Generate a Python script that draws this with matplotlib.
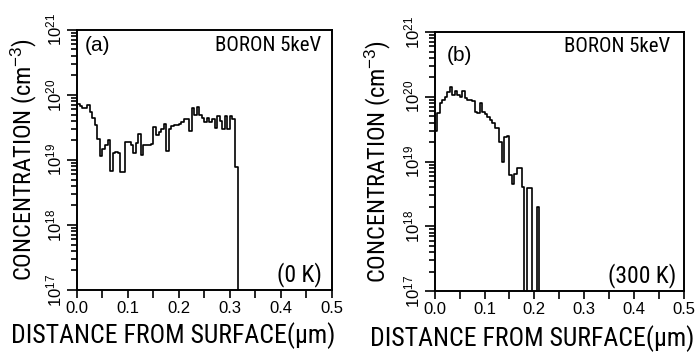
import numpy as np
import matplotlib.pyplot as plt
from matplotlib.ticker import MultipleLocator, LogLocator, NullFormatter

plt.rcParams['font.family'] = ['Roboto Condensed', 'Liberation Sans Narrow', 'DejaVu Sans']
plt.rcParams['font.stretch'] = 'condensed'
plt.rcParams['mathtext.fontset'] = 'custom'
plt.rcParams['mathtext.rm'] = 'Liberation Sans'
plt.rcParams['mathtext.it'] = 'Liberation Sans:italic'

# depth histogram, bin width in um
bin_width = 0.005

# (a) 0 K, concentration per bin (cm^-3), last bin is empty
conc_0K = [7.2e19, 6.8e19, 6.3e19, 6.2e19, 7.0e19, 5.4e19, 4.5e19, 3.4e19, 2.1e19, 1.15e19,
           1.5e19, 1.7e19, 2.0e19, 6.8e18, 1.3e19, 1.35e19, 1.3e19, 6.5e18, 6.5e18, 1.9e19,
           1.9e19, 1.7e19, 1.3e19, 1.8e19, 2.5e19, 1.2e19, 1.7e19, 1.7e19, 1.7e19, 1.75e19,
           3.2e19, 2.4e19, 2.7e19, 3.0e19, 3.6e19, 1.38e19, 3.0e19, 3.3e19, 3.4e19, 3.5e19,
           3.6e19, 3.8e19, 4.3e19, 4.3e19, 2.8e19, 6.3e19, 5.0e19, 6.6e19, 5.0e19, 4.5e19,
           3.9e19, 4.5e19, 3.8e19, 4.2e19, 3.1e19, 4.7e19, 4.0e19, 3.0e19, 4.8e19, 3.0e19,
           4.8e19, 4.2e19, 7.7e18, 0]
surface_0K = 2.3e19

# (b) 300 K
conc_300K = [3.0e19, 5.6e19, 7.9e19, 8.9e19, 1.0e20, 1.2e20, 1.43e20, 1.05e20, 1.25e20, 1.05e20,
             1.0e20, 1.25e20, 9.5e19, 8.9e19, 8.9e19, 8.5e19, 5.9e19, 5.6e19, 7.9e19, 5.9e19,
             5.5e19, 4.9e19, 4.4e19, 3.9e19, 3.3e19, 3.3e19, 2.0e19, 1.0e19, 2.4e19, 2.5e19,
             6.2e18, 4.5e18, 6.5e18, 7.9e18, 7.9e18, 4.1e18, 0, 3.9e18, 3.9e18, 0,
             0, 2.0e18, 0]
surface_300K = 3.0e19

panels = [
    dict(vals=conc_0K, start=surface_0K, tag='(a)', temp='(0 K)',
         rect=[0.110, 0.176, 0.364, 0.739], ylab_x=-0.15, xlab_x=0.376, xlab_y=-0.125,
         tag_pos=(0.031, 0.942), boron_pos=(0.957, 0.942), temp_pos=(0.961, 0.058)),
    dict(vals=conc_300K, start=surface_300K, tag='(b)', temp='(300 K)',
         rect=[0.621, 0.173, 0.356, 0.736], ylab_x=-0.166, xlab_x=0.39, xlab_y=-0.13,
         tag_pos=(0.048, 0.911), boron_pos=(0.944, 0.946), temp_pos=(0.968, 0.062)),
]

fig = plt.figure(figsize=(7.0, 3.52), dpi=100)

for p in panels:
    ax = fig.add_axes(p['rect'])
    vals = np.array(p['vals'], dtype=float)
    vals = np.where(vals > 0, vals, 1e14)  # empty bins fall to the floor
    edges = np.arange(len(vals) + 1) * bin_width
    xs = np.r_[edges[0], edges]
    ys = np.r_[p['start'], vals, vals[-1]]
    ax.step(xs, ys, where='post', color='k', lw=1.2)

    ax.set_yscale('log')
    ax.set_xlim(0, 0.5)
    ax.set_ylim(1e17, 1e21)

    ax.xaxis.set_major_locator(MultipleLocator(0.1))
    ax.xaxis.set_minor_locator(MultipleLocator(0.05))
    ax.set_xticks([0.0, 0.1, 0.2, 0.3, 0.4, 0.5],
                  labels=['0.0', '0.1', '0.2', '0.3', '0.4', '0.5'],
                  fontfamily='Liberation Sans', fontstretch='normal', fontsize=12)
    ax.set_yticks([1e17, 1e18, 1e19, 1e20, 1e21],
                  labels=[r'$10^{17}$', r'$10^{18}$', r'$10^{19}$', r'$10^{20}$', r'$10^{21}$'],
                  fontsize=12, rotation=90, va='center')
    ax.yaxis.set_minor_locator(LogLocator(base=10, subs=np.arange(2, 10)))
    ax.yaxis.set_minor_formatter(NullFormatter())

    ax.tick_params(which='both', direction='out', width=1.2, top=False, right=False)
    ax.tick_params(axis='x', which='both', length=6, pad=2)
    ax.tick_params(axis='y', which='major', length=7, pad=2)
    ax.tick_params(axis='y', which='minor', length=4)
    for s in ax.spines.values():
        s.set_linewidth(1.4)

    ax.set_ylabel(r'CONCENTRATION (cm$^{-3}$)', fontsize=17.5)
    ax.yaxis.set_label_coords(p['ylab_x'], 0.5)
    ax.set_xlabel('DISTANCE FROM SURFACE(μm)', fontsize=18.5)
    ax.xaxis.set_label_coords(p['xlab_x'], p['xlab_y'])

    ax.text(*p['tag_pos'], p['tag'], transform=ax.transAxes, fontsize=15,
            fontfamily='Liberation Sans', fontstretch='normal', ha='left', va='center')
    ax.text(*p['boron_pos'], 'BORON 5keV', transform=ax.transAxes, fontsize=15,
            ha='right', va='center')
    ax.text(*p['temp_pos'], p['temp'], transform=ax.transAxes, fontsize=17,
            ha='right', va='center')

fig.savefig('out.png', dpi=100)
